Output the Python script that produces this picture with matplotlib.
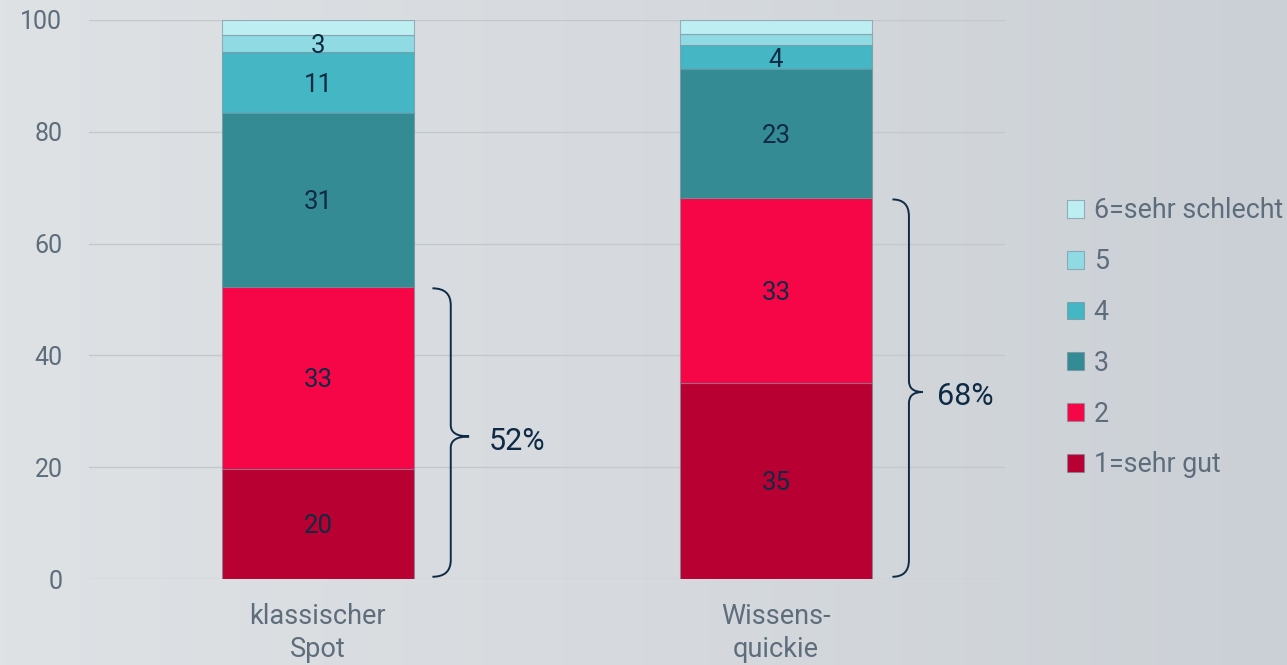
import numpy as np
import matplotlib
matplotlib.use("Agg")
import matplotlib.pyplot as plt
from matplotlib.path import Path
from matplotlib.patches import PathPatch, Patch
from matplotlib.colors import LinearSegmentedColormap

plt.rcParams['font.family'] = ['Roboto', 'DejaVu Sans']

categories = ["klassischer\nSpot", "Wissens-\nquickie"]
levels = ["1=sehr gut", "2", "3", "4", "5", "6=sehr schlecht"]
values = {
    "1=sehr gut":      [19.7, 35.1],
    "2":               [32.6, 33.1],
    "3":               [31.1, 23.0],
    "4":               [10.9, 4.3],
    "5":               [3.0, 2.0],
    "6=sehr schlecht": [2.7, 2.5],
}
colors = ["#B80132", "#F60646", "#358B93", "#44B6C4", "#90DAE4", "#BDEEF2"]
yticks = [0, 20, 40, 60, 80, 100]

text_dark = "#0E2A44"
tick_grey = "#5E6D7C"
edge = (0.45, 0.55, 0.6, 0.6)

fig = plt.figure(figsize=(12.87, 6.65), dpi=100)
bg = fig.add_axes([0, 0, 1, 1], zorder=-10)
grad = np.linspace(0, 1, 256).reshape(1, -1)
cmap = LinearSegmentedColormap.from_list("bg", ["#DEE2E5", "#D6DADE", "#CBD0D6"])
bg.imshow(grad, aspect="auto", cmap=cmap, extent=[0, 1, 0, 1])
bg.axis("off")

ax = fig.add_axes([0.069, 0.1293, 0.712, 0.8407])
ax.patch.set_alpha(0)
x = np.arange(len(categories))
width = 0.42
bottom = np.zeros(len(categories))
handles = []
for lvl, col in zip(levels, colors):
    v = np.array(values[lvl])
    ax.bar(x, v, width, bottom=bottom, color=col, edgecolor=edge,
           linewidth=0.8, zorder=3)
    for xi, vi, bi in zip(x, v, bottom):
        if vi >= 2.9:
            ax.text(xi, bi + vi / 2, f"{vi:.0f}", ha="center", va="center_baseline",
                    fontsize=18.5, color=text_dark, zorder=5)
    bottom += v
    handles.append(Patch(facecolor=col, edgecolor=edge, linewidth=0.8, label=lvl))

ax.set_xlim(-0.5, 1.5)
ax.set_ylim(0, 100)
ax.set_yticks(yticks)
ax.set_xticks(x)
ax.set_xticklabels(categories, fontsize=19.5, color=tick_grey, linespacing=1.3)
ax.tick_params(axis="y", length=0, pad=19, labelsize=18, labelcolor=tick_grey)
ax.tick_params(axis="x", length=0, pad=17)
ax.grid(axis="y", color="#C3C8CD", linewidth=1, zorder=0)
for s in ax.spines.values():
    s.set_visible(False)

# braces for top-2 share
top2 = [values["1=sehr gut"][i] + values["2"][i] for i in range(len(categories))]
brace_x = [(0.25, 0.29, 0.33, 0.372), (0.254, 0.29, 0.32, 0.352)]
for i, tot in enumerate(top2):
    x0, x1, x2, xt = (x[i] + d for d in brace_x[i])
    y0, y1 = 0.4, tot - 0.3
    ym = (y0 + y1) / 2 - 0.7
    r = 3.0
    rm = 2.0
    verts = [(x0, y0), (x1, y0), (x1, y0 + r),
             (x1, ym - rm), (x1, ym), (x2, ym),
             (x1, ym), (x1, ym + rm),
             (x1, y1 - r), (x1, y1), (x0, y1)]
    codes = [Path.MOVETO, Path.CURVE3, Path.CURVE3,
             Path.LINETO, Path.CURVE3, Path.CURVE3,
             Path.CURVE3, Path.CURVE3,
             Path.LINETO, Path.CURVE3, Path.CURVE3]
    ax.add_patch(PathPatch(Path(verts, codes), facecolor="none", edgecolor=text_dark,
                           linewidth=1.4, clip_on=False, zorder=4))
    ax.text(xt, ym - 0.3, f"{tot:.0f}%", ha="left", va="center_baseline",
            fontsize=22, color=text_dark)

fig.legend(handles=handles[::-1], loc="center left", bbox_to_anchor=(0.829, 0.492),
           frameon=False, fontsize=19.3, labelcolor=tick_grey, handlelength=0.65,
           handleheight=0.65, handletextpad=0.35, labelspacing=0.89,
           borderpad=0, borderaxespad=0)

fig.savefig("out.png", dpi=100, facecolor=fig.get_facecolor())
